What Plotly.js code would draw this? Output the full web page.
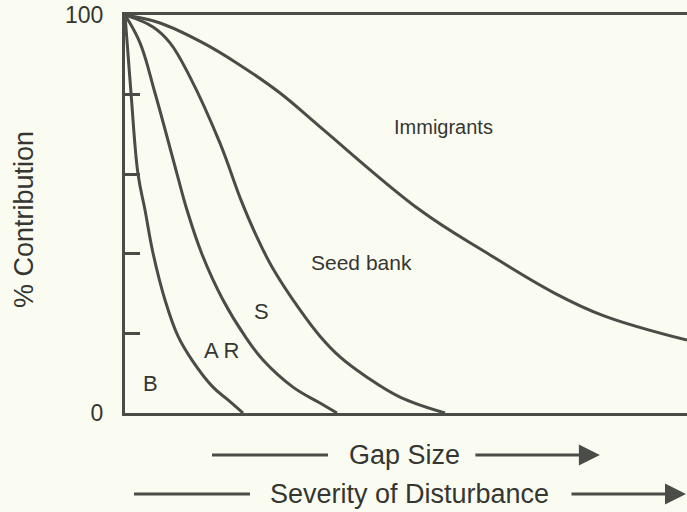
<!DOCTYPE html>
<html>
<head>
<meta charset="utf-8">
<script src="https://cdn.plot.ly/plotly-3.0.1.min.js"></script>
<style>
  html, body { margin: 0; padding: 0; background: #fbfcf1; }
  #chart { width: 687px; height: 512px; }
</style>
</head>
<body>
<div id="chart"></div>
<script>
// Boundary curves (x = gap size / severity, 0-100; y = % contribution)
const bX   = [0, 1.07, 2.31, 3.56, 4.98, 7.12, 9.43, 11.92, 15.66, 18.33, 21.00];
const bY   = [100, 80.4, 60.1, 51.0, 40.2, 28.4, 19.3, 13.3, 6.5, 3.3, 0];
const arX  = [0, 2.67, 5.34, 9.25, 11.03, 13.70, 17.44, 21.35, 24.56, 29.89, 34.70, 37.72];
const arY  = [100, 93.0, 80.4, 60.1, 51.0, 39.9, 28.4, 19.3, 13.3, 6.5, 2.5, 0];
const sX   = [0, 4.98, 8.01, 11.57, 16.90, 20.64, 23.31, 26.16, 31.14, 34.70, 38.26, 43.06, 48.93, 56.94];
const sY   = [100, 97.0, 93.0, 84.4, 67.8, 53.5, 44.7, 36.7, 25.9, 19.3, 14.1, 9.0, 4.0, 0];
const imX  = [0, 6.23, 13.88, 19.93, 27.58, 34.70, 52.49, 64.41, 76.33, 85.23, 100];
const imY  = [100, 98.0, 93.0, 87.9, 80.4, 71.9, 51.0, 40.2, 30.2, 24.4, 18.3];

// Region labels
const regionText = ["Immigrants", "Seed bank", "S", "A R", "B"];
const regionX    = [56.6, 42.0, 24.2, 17.1, 4.6];
const regionY    = [71.9, 37.9, 25.4, 15.8, 7.3];
const regionSize = [20, 21, 22, 22, 22];

// Y tick labels
const yTickVals = [0, 20, 40, 60, 80, 100];
const yTickText = ["0", "", "", "", "", "100"];

const INK = "#4a4c47";
const TXT = "#353632";
const FONT = "Liberation Sans, Arial, Helvetica, sans-serif";

function curve(x, y) {
  return { x: x, y: y, type: "scatter", mode: "lines",
           line: { color: INK, width: 3, shape: "spline", smoothing: 1.1 },
           hoverinfo: "skip", showlegend: false };
}

const data = [curve(bX, bY), curve(arX, arY), curve(sX, sY), curve(imX, imY)];

const annotations = regionText.map((t, i) => ({
  x: regionX[i], y: regionY[i], xref: "x", yref: "y", text: t, showarrow: false,
  xanchor: "center", yanchor: "middle",
  font: { family: FONT, size: regionSize[i], color: TXT }
}));

// Y axis title
annotations.push({
  xref: "paper", yref: "paper", x: -0.18, y: 0.487, text: "% Contribution",
  xanchor: "center", yanchor: "middle",
  textangle: -90, showarrow: false, font: { family: FONT, size: 27, color: TXT }
});
// Gap size label + arrow
annotations.push({ xref: "paper", yref: "paper", x: 0.498, y: -0.1055, text: "Gap Size",
  xanchor: "center", yanchor: "middle",
  showarrow: false, font: { family: FONT, size: 27, color: TXT } });
annotations.push({ xref: "paper", yref: "paper", x: 0.845, y: -0.1055, text: "",
  showarrow: true, ax: -126, ay: 0, arrowhead: 2, arrowsize: 1.4, arrowwidth: 3, arrowcolor: INK });
// Severity label + arrow
annotations.push({ xref: "paper", yref: "paper", x: 0.507, y: -0.2035, text: "Severity of Disturbance",
  xanchor: "center", yanchor: "middle",
  showarrow: false, font: { family: FONT, size: 27, color: TXT } });
annotations.push({ xref: "paper", yref: "paper", x: 1.0, y: -0.2035, text: "",
  showarrow: true, ax: -117, ay: 0, arrowhead: 2, arrowsize: 1.4, arrowwidth: 3, arrowcolor: INK });

const shapes = [
  { type: "line", xref: "paper", yref: "paper", x0: 0.1548, x1: 0.3612, y0: -0.1055, y1: -0.1055,
    line: { color: INK, width: 3 } },
  { type: "line", xref: "paper", yref: "paper", x0: 0.0160, x1: 0.2224, y0: -0.2035, y1: -0.2035,
    line: { color: INK, width: 3 } }
];

const layout = {
  width: 687, height: 512,
  margin: { l: 125, r: 0, t: 15, b: 99, pad: 0 },
  paper_bgcolor: "#fbfcf1", plot_bgcolor: "#fbfcf1",
  showlegend: false,
  xaxis: { range: [0, 100], showgrid: false, zeroline: false, showticklabels: false,
           ticks: "", showline: true, linecolor: INK, linewidth: 3, mirror: true, fixedrange: true },
  yaxis: { range: [0, 100], showgrid: false, zeroline: false, showline: true, linecolor: INK,
           linewidth: 3, mirror: false, tickvals: yTickVals, ticktext: yTickText,
           ticks: "inside", ticklen: 15, tickwidth: 3, tickcolor: INK, ticklabelstandoff: 14,
           tickfont: { family: FONT, size: 23, color: TXT }, fixedrange: true },
  annotations: annotations,
  shapes: shapes
};

Plotly.newPlot("chart", data, layout, { staticPlot: true, displayModeBar: false });
</script>
</body>
</html>
